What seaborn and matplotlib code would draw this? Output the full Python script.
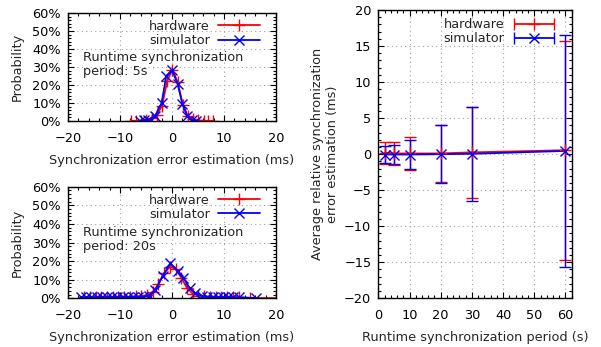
import matplotlib
matplotlib.use("Agg")
import matplotlib.pyplot as plt
from matplotlib.ticker import MultipleLocator, PercentFormatter
from matplotlib.legend_handler import HandlerErrorbar
import numpy as np
import seaborn as sns

# --- histograms of the synchronization error (probability in %) ---
hw5_x = [-7.9, -6.9, -5.9, -4.9, -3.9, -2.9, -1.9, -0.9, 0.1, 1.1, 2.1, 3.1, 4.1, 5.1, 6.1, 6.9, 7.9]
hw5_y = [0.1, 0.1, 0.2, 0.4, 1.5, 3.5, 8.5, 22.5, 28.5, 21.5, 9.0, 2.5, 1.0, 0.3, 0.1, 0.1, 0.1]
sim5_x = [-6.2, -5.4, -4.6, -3.3, -2.0, -1.1, 0.0, 1.1, 2.0, 2.9, 3.8, 4.7]
sim5_y = [0.2, 0.3, 0.5, 2.5, 10.0, 25.0, 28.5, 20.5, 9.5, 3.0, 0.6, 0.2]

hw20_x = [-16.9, -15.8, -14.7, -13.6, -12.5, -11.4, -10.3, -9.2, -8.1, -7.0, -5.9, -4.8, -3.7, -2.6,
          -1.5, -0.4, 0.7, 1.8, 2.9, 4.0, 5.1, 6.2, 7.3, 8.4, 9.5, 10.6, 11.7, 12.8, 15.1, 20.0]
hw20_y = [0.5, 0.5, 0.6, 0.7, 0.6, 0.8, 0.8, 0.9, 0.9, 1.0, 1.2, 1.6, 3.5, 7.5,
          13.5, 17.0, 16.0, 11.0, 5.5, 2.5, 1.5, 1.0, 0.9, 0.8, 0.8, 0.7, 0.6, 0.5, 0.2, 0.1]
sim20_x = [-17.5, -16.5, -15.5, -14.5, -13.5, -12.5, -11.5, -10.5, -9.5, -8.5, -7.5, -6.5, -5.5, -4.5,
           -3.2, -1.8, -0.3, 1.1, 2.2, 3.4, 4.4, 5.7, 6.8, 7.8, 8.8, 9.8, 10.8, 11.8, 12.8, 16.2]
sim20_y = [0.5, 0.5, 0.6, 0.5, 0.6, 0.5, 0.6, 0.6, 0.5, 0.6, 0.6, 0.7, 0.8, 1.2,
           4.5, 12.0, 18.8, 14.5, 11.0, 5.5, 3.0, 1.5, 0.8, 0.7, 0.6, 0.6, 0.6, 0.5, 0.5, 0.2]

# --- average relative error vs runtime synchronization period ---
period = [2, 5, 10, 20, 30, 60]
hw_mean = [0.2, 0.1, 0.1, 0.1, 0.25, 0.55]
hw_err = [1.5, 1.55, 2.3, 3.95, 6.3, 15.2]
sim_mean = [-0.05, -0.05, -0.05, 0.0, 0.05, 0.45]
sim_err = [1.15, 1.35, 2.0, 4.05, 6.55, 16.1]

RED = "#ff0000"
BLUE = "#0000ff"

sns.set_style("ticks")
plt.rcParams["font.family"] = ["DejaVu Sans"]
plt.rcParams["font.size"] = 9.3
plt.rcParams["xtick.direction"] = "in"
plt.rcParams["ytick.direction"] = "in"

fig = plt.figure(figsize=(6.01, 3.47), dpi=100)
ax_top = fig.add_axes([0.1131, 0.6513, 0.3461, 0.3112])
ax_bot = fig.add_axes([0.1131, 0.1403, 0.3461, 0.3216])
ax_r = fig.add_axes([0.6295, 0.1403, 0.3218, 0.8308])


def style_axes(ax):
    ax.grid(True, which="major", linestyle=(0, (1, 3)), color="#a0a0a0", linewidth=0.8)
    ax.tick_params(which="both", top=True, right=True, direction="in", colors="black")
    ax.tick_params(axis="x", which="both", pad=8)
    ax.tick_params(axis="y", which="both", pad=5)
    ax.tick_params(which="major", length=4, width=0.8)
    ax.tick_params(which="minor", length=2, width=0.8)
    for s in ax.spines.values():
        s.set_color("black")
        s.set_linewidth(1.0)


for ax, hx, hy, sx, sy, txt in [(ax_top, hw5_x, hw5_y, sim5_x, sim5_y, "Runtime synchronization\nperiod: 5s"),
                                (ax_bot, hw20_x, hw20_y, sim20_x, sim20_y, "Runtime synchronization\nperiod: 20s")]:
    sns.lineplot(x=hx, y=hy, ax=ax, color=RED, marker="+", markersize=9, markeredgewidth=1.0,
                 markeredgecolor=RED, linewidth=1.3, label="hardware", estimator=None, sort=False)
    sns.lineplot(x=sx, y=sy, ax=ax, color=BLUE, marker="x", markersize=7, markeredgewidth=1.0,
                 markeredgecolor=BLUE, linewidth=1.3, label="simulator", estimator=None, sort=False)
    ax.set_xlim(-20, 20)
    ax.set_ylim(0, 60)
    ax.xaxis.set_major_locator(MultipleLocator(10))
    ax.xaxis.set_minor_locator(MultipleLocator(2))
    ax.yaxis.set_major_locator(MultipleLocator(10))
    ax.yaxis.set_minor_locator(MultipleLocator(2))
    ax.yaxis.set_major_formatter(PercentFormatter(decimals=0))
    ax.set_xlabel("Synchronization error estimation (ms)", labelpad=6.5)
    ax.set_ylabel("Probability", labelpad=6)
    style_axes(ax)
    ax.legend(loc="upper right", bbox_to_anchor=(0.95, 0.985), frameon=False, markerfirst=False,
              handlelength=3.3, handletextpad=0.6, labelspacing=0.1, borderaxespad=0.0)
    ax.text(0.07, 0.65, txt, transform=ax.transAxes, ha="left", va="top", linespacing=1.15)

# right: error bars (lines drawn by seaborn, bars by matplotlib)
sns.lineplot(x=period, y=hw_mean, ax=ax_r, color=RED, linewidth=1.3, legend=False)
sns.lineplot(x=period, y=sim_mean, ax=ax_r, color=BLUE, linewidth=1.3, legend=False)
ax_r.errorbar(period, hw_mean, yerr=hw_err, color=RED, marker="+", markersize=9, linestyle="none",
              elinewidth=1.0, capsize=4, capthick=1.0)
ax_r.errorbar(period, sim_mean, yerr=sim_err, color=BLUE, marker="x", markersize=7, linestyle="none",
              elinewidth=1.0, capsize=4, capthick=1.0)

# legend handles drawn as horizontal error bars like the original
h_hw = ax_r.errorbar([np.nan], [np.nan], xerr=[1], color=RED, marker="+", markersize=9,
                     linestyle="none", elinewidth=1.3, capsize=4)
h_sim = ax_r.errorbar([np.nan], [np.nan], xerr=[1], color=BLUE, marker="x", markersize=7,
                      linestyle="none", elinewidth=1.3, capsize=4)
ax_r.legend([h_hw, h_sim], ["hardware", "simulator"], loc="upper right", bbox_to_anchor=(0.94, 0.99),
            frameon=False, markerfirst=False, handlelength=3.3, handletextpad=0.6,
            labelspacing=0.1, borderaxespad=0.0,
            handler_map={type(h_hw): HandlerErrorbar(xerr_size=1.55)})

ax_r.set_xlim(0, 62)
ax_r.set_ylim(-20, 20)
ax_r.xaxis.set_major_locator(MultipleLocator(10))
ax_r.xaxis.set_minor_locator(MultipleLocator(2))
ax_r.yaxis.set_major_locator(MultipleLocator(5))
ax_r.yaxis.set_minor_locator(MultipleLocator(1))
ax_r.set_xlabel("Runtime synchronization period (s)", labelpad=6.5)
ax_r.set_ylabel("Average relative synchronization\nerror estimation (ms)", labelpad=4)
style_axes(ax_r)

fig.savefig("out.png", dpi=100)
